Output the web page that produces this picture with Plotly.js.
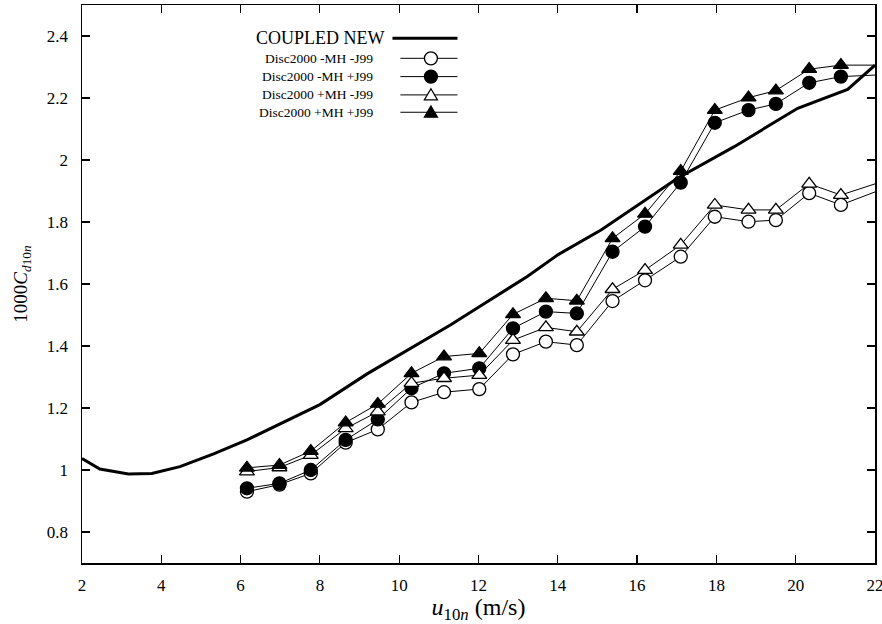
<!DOCTYPE html>
<html>
<head>
<meta charset="utf-8">
<script src="https://cdn.plot.ly/plotly-3.0.1.min.js"></script>
<style>html,body{margin:0;padding:0;background:#fff;}#chart{width:882px;height:624px;}</style>
</head>
<body>
<div id="chart"></div>
<script>
// ---- data ----
const coupledX = [2.0, 2.45, 3.17, 3.76, 4.47, 5.32, 6.16, 7.0, 8.0, 9.19, 10.28, 11.29, 12.22, 13.23, 14.0, 15.1, 17.02, 18.45, 20.05, 21.31, 22.0];
const coupledY = [1.037, 1.003, 0.987, 0.989, 1.011, 1.052, 1.097, 1.148, 1.211, 1.310, 1.393, 1.468, 1.543, 1.624, 1.694, 1.775, 1.941, 2.043, 2.167, 2.228, 2.306];

const windX = [6.16, 6.98, 7.77, 8.65, 9.46, 10.31, 11.13, 12.02, 12.87, 13.70, 14.48, 15.38, 16.20, 17.10, 17.96, 18.81, 19.50, 20.34, 21.14, 22.0];
const noMHnoJ99 = [0.930, 0.953, 0.989, 1.088, 1.131, 1.218, 1.251, 1.261, 1.373, 1.414, 1.403, 1.545, 1.612, 1.688, 1.817, 1.801, 1.806, 1.893, 1.855, 1.897];
const noMHJ99   = [0.941, 0.957, 1.000, 1.097, 1.163, 1.264, 1.312, 1.328, 1.457, 1.511, 1.505, 1.704, 1.785, 1.927, 2.120, 2.161, 2.181, 2.249, 2.269, 2.274];
const MHnoJ99   = [0.995, 1.008, 1.048, 1.134, 1.188, 1.280, 1.296, 1.306, 1.419, 1.460, 1.446, 1.583, 1.645, 1.726, 1.855, 1.839, 1.839, 1.923, 1.887, 1.923];
const MHJ99     = [1.007, 1.016, 1.061, 1.153, 1.213, 1.312, 1.366, 1.376, 1.502, 1.554, 1.546, 1.747, 1.826, 1.964, 2.161, 2.201, 2.224, 2.293, 2.306, 2.306];

const seriesNames = ["COUPLED NEW", "Disc2000 -MH -J99", "Disc2000 -MH +J99", "Disc2000 +MH -J99", "Disc2000 +MH +J99"];
const xTicks = [2, 4, 6, 8, 10, 12, 14, 16, 18, 20, 22];
const yTicks = [0.8, 1, 1.2, 1.4, 1.6, 1.8, 2, 2.2, 2.4];

// ---- styling ----
const FONT = "Liberation Serif, Times New Roman, serif";
const MS = 13;
// last point sits on the right frame edge, where no marker is drawn
const sizes = windX.map((x, i) => (i === windX.length - 1 ? 0 : MS));

function markerSeries(y, symbol, fill, name) {
  return {
    x: windX, y: y, name: name, type: "scatter", mode: "lines+markers",
    line: {color: "#000", width: 1},
    marker: {symbol: symbol, size: sizes, color: fill, opacity: 1, line: {color: "#000", width: 1.3}},
    showlegend: false, cliponaxis: true
  };
}

const traces = [
  {x: coupledX, y: coupledY, name: seriesNames[0], type: "scatter", mode: "lines",
   line: {color: "#000", width: 3}, showlegend: false},
  markerSeries(noMHnoJ99, "circle", "#fff", seriesNames[1]),
  markerSeries(noMHJ99, "circle", "#000", seriesNames[2]),
  markerSeries(MHnoJ99, "triangle-up", "#fff", seriesNames[3]),
  markerSeries(MHJ99, "triangle-up", "#000", seriesNames[4])
];

// ---- hand-made legend (text on the left, sample on the right, like the original) ----
const leg = {
  textRight: 9.40, bigTextRight: 9.70,
  lineX0: 10.03, lineX0big: 9.83, lineX1: 11.47, markX: 10.80,
  rows: [2.393, 2.328, 2.269, 2.210, 2.154]
};
const annotations = [];
const shapes = [];
seriesNames.forEach((nm, i) => {
  const yy = leg.rows[i];
  annotations.push({
    x: i === 0 ? leg.bigTextRight : leg.textRight, y: yy, xref: "x", yref: "y",
    text: nm, showarrow: false, xanchor: "right", yanchor: "middle",
    font: {family: FONT, size: i === 0 ? 18 : 13.5, color: "#000"}
  });
  shapes.push({type: "line", xref: "x", yref: "y",
    x0: i === 0 ? leg.lineX0big : leg.lineX0, x1: leg.lineX1, y0: yy, y1: yy,
    line: {color: "#000", width: i === 0 ? 3 : 1}});
  if (i === 1 || i === 2) {
    shapes.push({type: "circle", xref: "x", yref: "y", xsizemode: "pixel", ysizemode: "pixel",
      xanchor: leg.markX, yanchor: yy, x0: -MS / 2, x1: MS / 2, y0: -MS / 2, y1: MS / 2,
      fillcolor: i === 1 ? "#fff" : "#000", opacity: 1, line: {color: "#000", width: 1.3}, layer: "above"});
  } else if (i === 3 || i === 4) {
    const h = MS * 0.5;
    shapes.push({type: "path", xref: "x", yref: "y", xsizemode: "pixel", ysizemode: "pixel",
      xanchor: leg.markX, yanchor: yy,
      path: `M ${-h} ${-h * 0.75} L ${h} ${-h * 0.75} L 0 ${h * 0.95} Z`,
      fillcolor: i === 3 ? "#fff" : "#000", opacity: 1, line: {color: "#000", width: 1.3}, layer: "above"});
  }
});

const axisCommon = {
  showline: true, linecolor: "#000", linewidth: 1.5, mirror: "ticks",
  ticks: "inside", ticklen: 8, tickwidth: 1.2, tickcolor: "#000",
  showgrid: false, zeroline: false,
  tickfont: {family: FONT, size: 17, color: "#000"}
};

const layout = {
  width: 882, height: 624,
  margin: {l: 82, r: 7, t: 5, b: 61},
  paper_bgcolor: "#fff", plot_bgcolor: "#fff",
  showlegend: false,
  xaxis: Object.assign({}, axisCommon, {
    range: [2, 22], tickvals: xTicks, ticktext: xTicks.map(String),
    ticklabelstandoff: 6, ticklabeloverflow: "allow",
    title: {text: "<i>u</i><sub>10<i>n</i></sub> (m/s)", font: {family: FONT, size: 24, color: "#000"}, standoff: 6}
  }),
  yaxis: Object.assign({}, axisCommon, {
    range: [0.7, 2.5], tickvals: yTicks, ticktext: yTicks.map(String),
    ticklabelstandoff: 9,
    title: {text: "1000<i>C</i><sub><i>d</i>10<i>n</i></sub>", font: {family: FONT, size: 19, color: "#000"}, standoff: 14}
  }),
  annotations: annotations,
  shapes: shapes
};

Plotly.newPlot("chart", traces, layout, {displayModeBar: false, staticPlot: true});
</script>
</body>
</html>
